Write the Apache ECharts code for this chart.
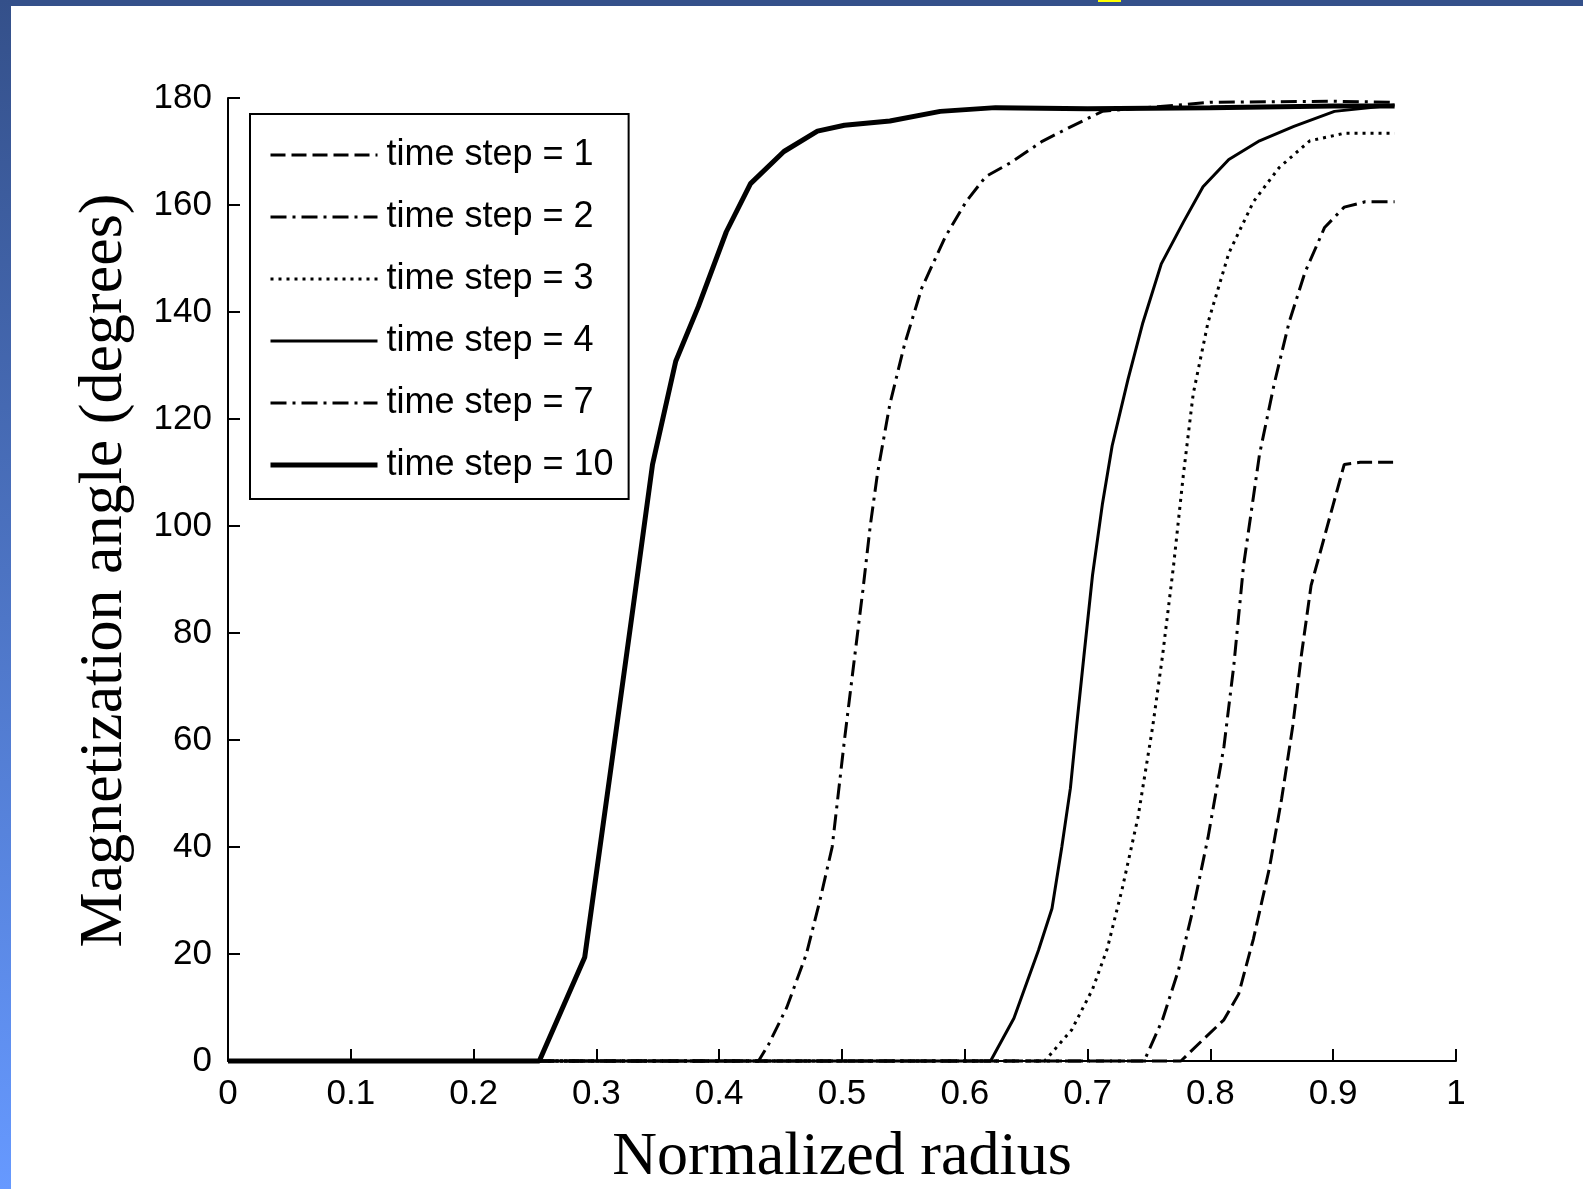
<!DOCTYPE html>
<html>
<head>
<meta charset="utf-8">
<script src="https://cdn.jsdelivr.net/npm/echarts@6/dist/echarts.min.js"></script>
<style>
html,body{margin:0;padding:0;background:#fff;}
#chart{width:1583px;height:1189px;}
</style>
</head>
<body>
<div id="chart"></div>
<script>
// ---- data ----
const seriesNames = ['time step = 1','time step = 2','time step = 3','time step = 4','time step = 7','time step = 10'];

const ts1X = [0, 0.776, 0.794, 0.811, 0.823, 0.835, 0.848, 0.858, 0.867, 0.874, 0.882, 0.891, 0.900, 0.909, 0.922, 0.95];
const ts1Y = [0, 0, 4, 7.7, 12.5, 22.8, 36, 49, 62.5, 75.7, 88.9, 96.4, 104, 111.5, 111.9, 111.9];

const ts2X = [0, 0.746, 0.761, 0.774, 0.786, 0.798, 0.811, 0.819, 0.827, 0.840, 0.852, 0.864, 0.877, 0.893, 0.909, 0.926, 0.95];
const ts2Y = [0, 0, 7.7, 17, 28.5, 41.7, 58.7, 73.8, 92.6, 113.4, 126.6, 138, 147.4, 155.8, 159.6, 160.6, 160.6];

const ts3X = [0, 0.665, 0.687, 0.704, 0.716, 0.728, 0.741, 0.753, 0.761, 0.770, 0.778, 0.786, 0.798, 0.815, 0.835, 0.856, 0.881, 0.909, 0.95];
const ts3Y = [0, 0, 5.8, 13.4, 21, 32, 45.5, 62.5, 75.7, 92.6, 109.6, 124.7, 138, 151, 160.6, 167, 172, 173.4, 173.4];

const ts4X = [0, 0.621, 0.640, 0.660, 0.671, 0.679, 0.686, 0.691, 0.697, 0.704, 0.712, 0.720, 0.733, 0.745, 0.760, 0.778, 0.794, 0.815, 0.840, 0.868, 0.901, 0.95];
const ts4Y = [0, 0, 8, 20.7, 28.5, 40, 51, 62.5, 75.7, 90.8, 104, 115, 127.5, 138, 149, 156.8, 163.4, 168.5, 172, 174.7, 177.5, 178.7];

const ts7X = [0, 0.432, 0.440, 0.455, 0.471, 0.482, 0.492, 0.502, 0.510, 0.517, 0.523, 0.529, 0.539, 0.551, 0.565, 0.584, 0.601, 0.617, 0.638, 0.663, 0.687, 0.712, 0.737, 0.800, 0.900, 0.95];
const ts7Y = [0, 0, 3, 10, 20, 30, 40, 60, 75, 88, 100, 110, 122.8, 134, 144.5, 154, 160.6, 165.3, 168, 171.9, 174.7, 177.5, 178, 179.2, 179.4, 179.2];

const ts10X = [0, 0.2535, 0.2905, 0.312, 0.330, 0.3457, 0.3646, 0.383, 0.4058, 0.4255, 0.4527, 0.480, 0.502, 0.539, 0.580, 0.625, 0.700, 0.800, 0.900, 0.95];
const ts10Y = [0, 0, 19.4, 55, 85, 111.5, 130.8, 141, 155, 164, 170, 173.8, 174.9, 175.7, 177.5, 178.2, 178, 178.2, 178.5, 178.5];

const xTickLabels = ['0','0.1','0.2','0.3','0.4','0.5','0.6','0.7','0.8','0.9','1'];
const yTickLabels = ['0','20','40','60','80','100','120','140','160','180'];

// ---- build ----
function pairs(xs, ys){ return xs.map((x,i)=>[x, ys[i]]); }
const allX = [ts1X, ts2X, ts3X, ts4X, ts7X, ts10X];
const allY = [ts1Y, ts2Y, ts3Y, ts4Y, ts7Y, ts10Y];
const dashTypes = [[15,6], [16,6,3,6], [3,5], 'solid', [16,6,3,6], 'solid'];
const widths = [3, 3, 3, 3, 3, 5];

const series = seriesNames.map((name, i) => ({
  name: name,
  type: 'line',
  data: pairs(allX[i], allY[i]),
  symbol: 'none',
  showSymbol: false,
  smooth: false,
  clip: false,
  animation: false,
  z: 2,
  lineStyle: { color: '#000', width: widths[i], type: dashTypes[i] },
  itemStyle: { color: '#000' }
}));

const legendData = seriesNames.map((name, i) => ({
  name: name,
  lineStyle: { width: widths[i], type: dashTypes[i], color: '#000' },
  itemStyle: { opacity: 0 }
}));

const chart = echarts.init(document.getElementById('chart'), null, {renderer: 'canvas'});
chart.setOption({
  animation: false,
  backgroundColor: '#ffffff',
  graphic: [
    { type: 'rect', left: 0, top: 0, z: -10, shape: { width: 1583, height: 6 }, style: { fill: '#34508a' } },
    { type: 'rect', left: 0, top: 0, z: -10, shape: { width: 11, height: 1189 },
      style: { fill: new echarts.graphic.LinearGradient(0, 0, 0, 1, [
        { offset: 0, color: '#34508a' }, { offset: 1, color: '#6699ff' }]) } },
    { type: 'rect', left: 1098, top: 0, z: -9, shape: { width: 23, height: 2 }, style: { fill: '#ffff00' } }
  ],
  grid: { left: 228, right: 127, top: 98, bottom: 128, containLabel: false, outerBoundsMode: 'none' },
  legend: {
    orient: 'vertical',
    left: 250, top: 114,
    padding: [23, 15, 16, 18],
    itemWidth: 107, itemHeight: 2, itemGap: 26,
    itemStyle: { opacity: 0 },
    backgroundColor: '#fff', borderColor: '#000', borderWidth: 2, borderRadius: 0,
    textStyle: { fontSize: 36, color: '#000', fontFamily: 'Liberation Sans, Arial, sans-serif', lineHeight: 36, padding: [0,0,0,4] },
    data: legendData
  },
  xAxis: {
    type: 'value', min: 0, max: 1, interval: 0.1,
    name: 'Normalized radius', nameLocation: 'middle', nameGap: 66,
    nameTextStyle: { fontFamily: 'Liberation Serif, Times New Roman, serif', fontSize: 62, color: '#000' },
    axisLine: { show: true, onZero: false, lineStyle: { color: '#000', width: 2 } },
    axisTick: { show: true, inside: true, length: 12, lineStyle: { color: '#000', width: 2 } },
    axisLabel: { fontSize: 35, color: '#000', fontFamily: 'Liberation Sans, Arial, sans-serif', margin: 16,
      formatter: function(v){ return xTickLabels[Math.round(v*10)]; } },
    splitLine: { show: false }
  },
  yAxis: {
    type: 'value', min: 0, max: 180, interval: 20,
    name: 'Magnetization angle (degrees)', nameLocation: 'middle', nameGap: 92,
    nameTextStyle: { fontFamily: 'Liberation Serif, Times New Roman, serif', fontSize: 62, color: '#000', padding: [0,0,0,18] },
    axisLine: { show: true, onZero: false, lineStyle: { color: '#000', width: 2 } },
    axisTick: { show: true, inside: true, length: 12, lineStyle: { color: '#000', width: 2 } },
    axisLabel: { fontSize: 35, color: '#000', fontFamily: 'Liberation Sans, Arial, sans-serif', margin: 16,
      formatter: function(v){ return yTickLabels[Math.round(v/20)]; } },
    splitLine: { show: false }
  },
  series: series
});
</script>
</body>
</html>
